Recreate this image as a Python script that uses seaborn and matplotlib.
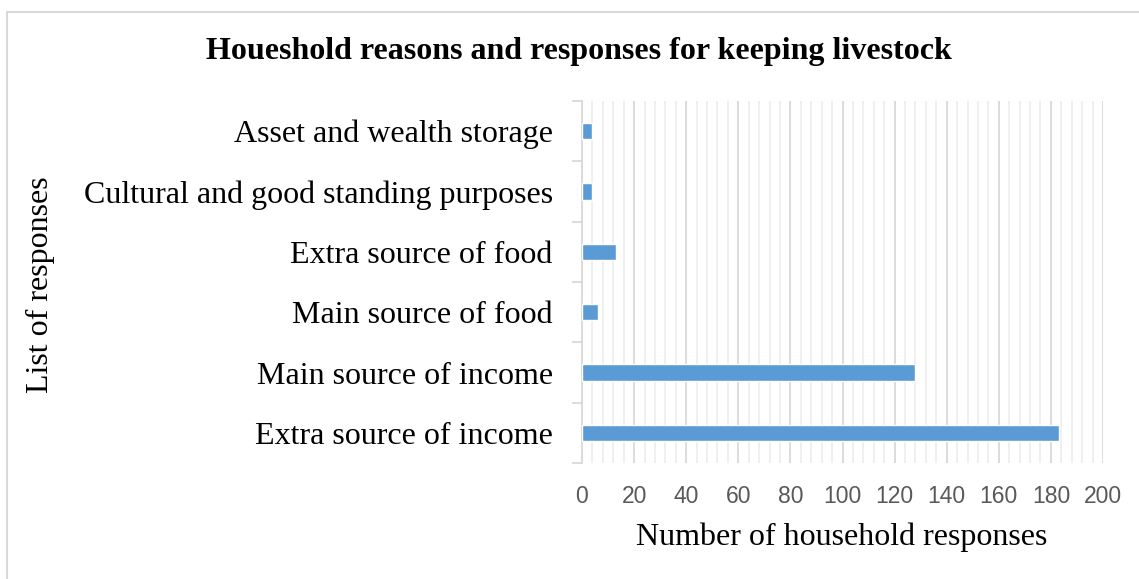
import matplotlib
matplotlib.use("Agg")
import matplotlib.pyplot as plt
import seaborn as sns
import pandas as pd
import numpy as np
from matplotlib.patches import Rectangle
from matplotlib.ticker import MultipleLocator, FixedLocator

categories = ["Asset and wealth storage", "Cultural and good standing purposes",
              "Extra source of food", "Main source of food",
              "Main source of income", "Extra source of income"]
values = [4, 4, 13, 6, 128, 183]

df = pd.DataFrame({"reason": categories, "count": values})

sns.set_theme(style="white")
plt.rcParams['font.family'] = ['Liberation Serif', 'DejaVu Serif']
plt.rcParams['text.color'] = 'black'

W, H = 1139, 579
fig = plt.figure(figsize=(W / 100, H / 100), dpi=100)
ax = fig.add_axes([582 / W, 1 - 463 / H, (1103 - 582) / W, (463 - 101) / H])

sns.barplot(data=df, y="reason", x="count", orient="h", color="#5B9BD5",
            width=0.27, saturation=1, ax=ax, zorder=3)

ax.set_xlim(0, 200)
ax.set_ylim(5.5, -0.5)
ax.xaxis.set_major_locator(MultipleLocator(20))
ax.xaxis.set_minor_locator(MultipleLocator(4))
ax.grid(axis="x", which="major", color="#d9d9d9", linewidth=1.3, zorder=0)
ax.grid(axis="x", which="minor", color="#eeeeee", linewidth=1.3, zorder=0)
ax.grid(axis="y", visible=False)

for s in ["top", "right", "bottom"]:
    ax.spines[s].set_visible(False)
ax.spines["left"].set_color("#d9d9d9")
ax.spines["left"].set_linewidth(1.3)

ax.yaxis.set_minor_locator(FixedLocator(np.arange(-0.5, 6, 1)))
ax.tick_params(axis="y", which="major", length=0, pad=21, labelsize=23, labelcolor="black")
ax.tick_params(axis="y", which="minor", length=7, width=1.3, color="#d9d9d9", left=True)
ax.tick_params(axis="x", which="both", length=0, pad=16, labelsize=16.5, labelcolor="#595959")
for lbl in ax.get_xticklabels():
    lbl.set_fontfamily("Liberation Sans")

ax.set_ylabel("")
ax.set_xlabel("")
fig.text(842 / W, 1 - 537 / H, "Number of household responses", fontsize=23,
         ha="center", va="center", color="black")
fig.text(40 / W, 1 - 285 / H, "List of responses", rotation=90, fontsize=23,
         ha="center", va="center", color="black")
fig.text(579 / W, 1 - 52 / H, "Houeshold reasons and responses for keeping livestock",
         fontsize=23, fontweight="bold", ha="center", va="center", color="black")

fig.patches.append(Rectangle((7 / W, -0.1), 1.2, 1 - 12 / H + 0.1,
                             transform=fig.transFigure, fill=False,
                             edgecolor="#d9d9d9", linewidth=1.5, zorder=-1))

fig.savefig("out.png", dpi=100)
